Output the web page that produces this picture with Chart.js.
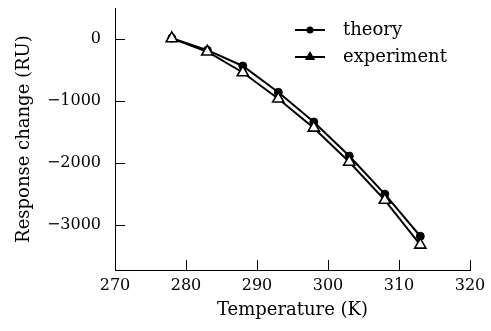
<!DOCTYPE html>
<html>
<head>
<meta charset="utf-8">
<script src="https://cdn.jsdelivr.net/npm/chart.js@4.4.1/dist/chart.umd.min.js"></script>
<style>
  html, body { margin: 0; padding: 0; background: #fff; }
  #wrap { width: 491px; height: 331px; }
</style>
</head>
<body>
<div id="wrap"><canvas id="chart" width="491" height="331"></canvas></div>
<script>
// data
const temperatures = [278, 283, 288, 293, 298, 303, 308, 313]
const theory = [15, -180, -435, -860, -1340, -1890, -2505, -3185]
const experiment = [10, -205, -540, -965, -1435, -1985, -2600, -3325]
const xTicks = [270, 280, 290, 300, 310, 320]
const yTicks = [0, -1000, -2000, -3000]

const FONT = "'DejaVu Serif', serif"
const fmt = v => (v < 0 ? '\u2212' + Math.abs(v) : String(v))

// inward tick marks + legend (line with marker, top right)
const decor = {
    id: 'decor',
    afterDraw(chart) {
        const { ctx, chartArea } = chart
        const x = chart.scales.x, y = chart.scales.y
        ctx.save()
        ctx.strokeStyle = '#000'
        ctx.lineWidth = 1
        xTicks.forEach(v => {
            const px = Math.round(x.getPixelForValue(v)) + 0.5
            ctx.beginPath()
            ctx.moveTo(px, chartArea.bottom)
            ctx.lineTo(px, chartArea.bottom - 10)
            ctx.stroke()
        })
        yTicks.forEach(v => {
            const py = Math.round(y.getPixelForValue(v)) + 0.5
            ctx.beginPath()
            ctx.moveTo(chartArea.left, py)
            ctx.lineTo(chartArea.left + 10, py)
            ctx.stroke()
        })

        // legend
        const items = [
            { label: chart.data.datasets[0].label, style: 'circle', r: 2.5, y: 30 },
            { label: chart.data.datasets[1].label, style: 'triangle', r: 4, y: 57 }
        ]
        ctx.font = '18px ' + FONT
        ctx.fillStyle = '#000'
        ctx.textBaseline = 'middle'
        ctx.textAlign = 'left'
        items.forEach(it => {
            ctx.lineWidth = 2
            ctx.beginPath()
            ctx.moveTo(295, it.y)
            ctx.lineTo(325, it.y)
            ctx.stroke()
            Chart.helpers.drawPoint(ctx, { pointStyle: it.style, radius: it.r, borderWidth: 1 }, 310, it.y)
            ctx.fill()
            ctx.fillText(it.label, 343, it.y)
        })
        ctx.restore()
    }
}

new Chart(document.getElementById('chart').getContext('2d'), {
    type: 'line',
    data: {
        labels: temperatures,
        datasets: [
            {
                label: 'theory',
                data: temperatures.map((t, i) => ({ x: t, y: theory[i] })),
                borderColor: '#000',
                borderWidth: 2,
                backgroundColor: '#000',
                pointStyle: 'circle',
                pointRadius: 4,
                pointBorderWidth: 1,
                pointBackgroundColor: '#000',
                order: 1
            },
            {
                label: 'experiment',
                data: temperatures.map((t, i) => ({ x: t, y: experiment[i] })),
                borderColor: '#000',
                borderWidth: 2,
                backgroundColor: '#fff',
                pointStyle: 'triangle',
                pointRadius: 6.5,
                pointBorderWidth: 1.6,
                pointBackgroundColor: '#fff',
                order: 0
            }
        ]
    },
    options: {
        responsive: false,
        animation: false,
        layout: { padding: { top: 7, right: 21, left: 0, bottom: 0 } },
        plugins: {
            legend: { display: false },
            tooltip: { enabled: false }
        },
        scales: {
            x: {
                type: 'linear',
                min: 270,
                max: 320,
                afterBuildTicks: s => { s.ticks = xTicks.map(v => ({ value: v })) },
                afterFit: s => { s.height = 61; s.paddingLeft = 0; s.paddingRight = 0 },
                grid: { display: false, drawTicks: false },
                border: { display: true, color: '#000', width: 1 },
                ticks: {
                    color: '#000',
                    padding: 6,
                    font: { family: FONT, size: 16 },
                    maxRotation: 0,
                    callback: v => fmt(v)
                },
                title: {
                    display: true,
                    text: 'Temperature (K)',
                    color: '#000',
                    font: { family: FONT, size: 18 },
                    padding: { top: 0, bottom: 10 }
                }
            },
            y: {
                min: -3730,
                max: 500,
                afterBuildTicks: s => { s.ticks = yTicks.map(v => ({ value: v })) },
                afterFit: s => { s.width = 115; s.paddingTop = 0; s.paddingBottom = 0 },
                grid: { display: false, drawTicks: false },
                border: { display: true, color: '#000', width: 1 },
                ticks: {
                    color: '#000',
                    padding: 14,
                    font: { family: FONT, size: 16 },
                    callback: v => fmt(v)
                },
                title: {
                    display: true,
                    text: 'Response change (RU)',
                    color: '#000',
                    font: { family: FONT, size: 18 },
                    padding: { top: 14, bottom: 0 }
                }
            }
        }
    },
    plugins: [decor]
})
</script>
</body>
</html>
